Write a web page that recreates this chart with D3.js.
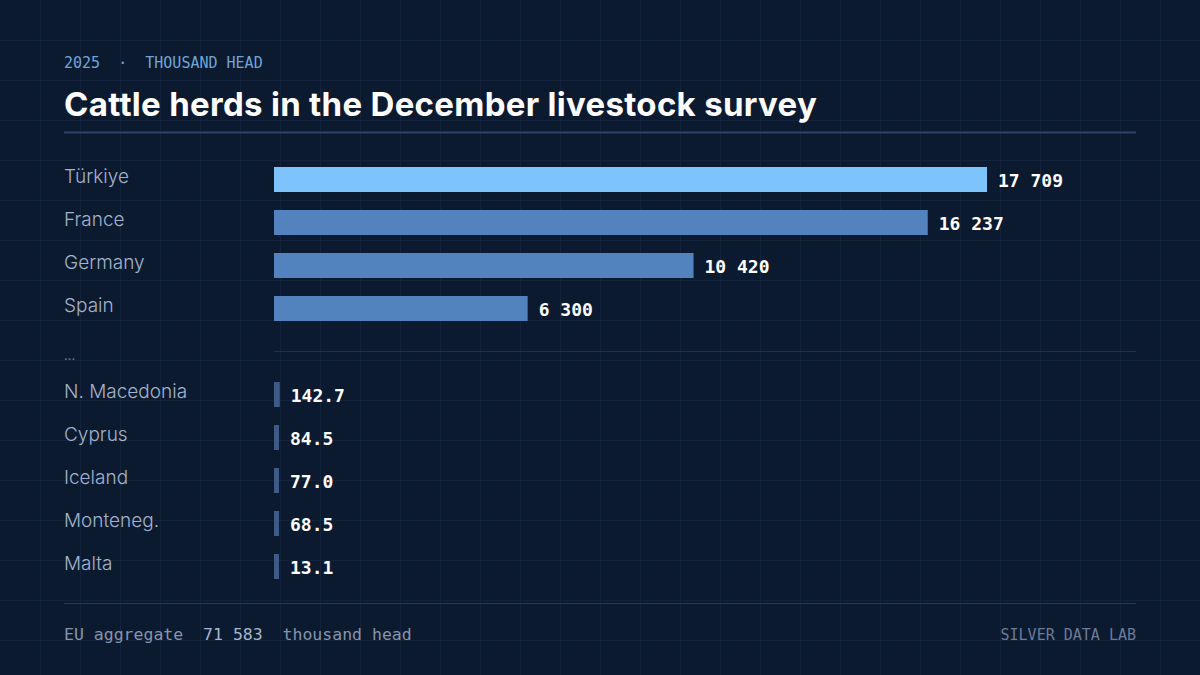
<!DOCTYPE html>
<html>
<head>
<meta charset="utf-8">
<script src="https://cdn.jsdelivr.net/npm/d3@7"></script>
<style>
  html, body { margin: 0; padding: 0; background: #0c1a30; }
  svg { display: block; }
</style>
</head>
<body>
<div id="chart"></div>
<script>
// values in thousand head, 2025
var topCountries = ['Türkiye', 'France', 'Germany', 'Spain'];
var topValues = [17709, 16237, 10420, 6300];
var topLabels = ['17 709', '16 237', '10 420', '6 300'];

var smallCountries = ['N. Macedonia', 'Cyprus', 'Iceland', 'Monteneg.', 'Malta'];
var smallValues = [142.7, 84.5, 77.0, 68.5, 13.1];
var smallLabels = ['142.7', '84.5', '77.0', '68.5', '13.1'];

var euTotal = '71 583';

var W = 1200, H = 675;
var MONO = '"DejaVu Sans Mono", "Liberation Mono", monospace';
var SANS = 'Inter, "Noto Sans", sans-serif';

var svg = d3.select('#chart').append('svg').attr('width', W).attr('height', H);

svg.append('rect').attr('width', W).attr('height', H).attr('fill', '#0c1a30');

// faint background grid
var grid = svg.append('g').attr('stroke', '#13233b').attr('stroke-width', 1);
d3.range(40, W, 40).forEach(function(x) {
    grid.append('line').attr('x1', x + 0.5).attr('x2', x + 0.5).attr('y1', 0).attr('y2', H);
});
d3.range(40, H, 40).forEach(function(y) {
    grid.append('line').attr('x1', 0).attr('x2', W).attr('y1', y + 0.5).attr('y2', y + 0.5);
});

// header
svg.append('text').attr('x', 64).attr('y', 68)
    .attr('font-family', MONO).attr('font-size', 15).attr('fill', '#6fa6d8')
    .attr('xml:space', 'preserve')
    .text('2025  ·  THOUSAND HEAD');

svg.append('text').attr('x', 64).attr('y', 116)
    .attr('font-family', SANS).attr('font-weight', 700).attr('font-size', 33)
    .attr('letter-spacing', 0.3).attr('fill', '#ffffff')
    .text('Cattle herds in the December livestock survey');

svg.append('line').attr('x1', 64).attr('x2', 1136).attr('y1', 132.5).attr('y2', 132.5)
    .attr('stroke', '#2c4468').attr('stroke-width', 2);

var x = d3.scaleLinear().domain([0, 17709]).range([274, 987]);

// 25px bars on a 43px pitch
var pad = 18 / 43;
var yTop = d3.scaleBand().domain(topCountries).range([167, 167 + 43 * 3 + 25]).paddingInner(pad).paddingOuter(0);
var ySmall = d3.scaleBand().domain(smallCountries).range([382, 382 + 43 * 4 + 25]).paddingInner(pad).paddingOuter(0);

function drawGroup(names, values, labels, y, isSmall) {
    var g = svg.append('g');
    var rows = g.selectAll('g').data(names).enter().append('g');

    rows.append('text')
        .attr('x', 64).attr('y', function(d) { return y(d) + 16; })
        .attr('font-family', SANS).attr('font-weight', 300).attr('font-size', 19)
        .attr('fill', '#a3b3cb')
        .text(function(d) { return d; });

    rows.append('rect')
        .attr('x', x(0))
        .attr('y', function(d) { return y(d); })
        .attr('height', y.bandwidth())
        .attr('width', function(d, i) { return Math.max(5, x(values[i]) - x(0)); })
        .attr('fill', function(d, i) {
            if (isSmall) return '#3d5b86';
            return i === 0 ? '#7cc4fb' : '#5383be';
        });

    rows.append('text')
        .attr('x', function(d, i) { return x(0) + Math.max(5, x(values[i]) - x(0)) + 11; })
        .attr('y', function(d) { return y(d) + y.bandwidth() / 2 + 7; })
        .attr('font-family', MONO).attr('font-weight', 700).attr('font-size', 18)
        .attr('fill', '#ffffff').attr('xml:space', 'preserve')
        .text(function(d, i) { return labels[i]; });
}

drawGroup(topCountries, topValues, topLabels, yTop, false);

// gap between largest and smallest herds
svg.append('text').attr('x', 64).attr('y', 360)
    .attr('font-family', SANS).attr('font-size', 13).attr('fill', '#6f7f99')
    .text('...');
svg.append('line').attr('x1', 274).attr('x2', 1136).attr('y1', 351.5).attr('y2', 351.5)
    .attr('stroke', '#1f3250').attr('stroke-width', 1);

drawGroup(smallCountries, smallValues, smallLabels, ySmall, true);

// footer
svg.append('line').attr('x1', 64).attr('x2', 1136).attr('y1', 603.5).attr('y2', 603.5)
    .attr('stroke', '#26395a').attr('stroke-width', 1);

var foot = svg.append('text').attr('x', 64).attr('y', 640)
    .attr('font-family', MONO).attr('font-size', 16.5).attr('fill', '#8595ad')
    .attr('xml:space', 'preserve');
foot.append('tspan').text('EU aggregate  ');
foot.append('tspan').attr('fill', '#a6b6cd').text(euTotal);
foot.append('tspan').text('  thousand head');

svg.append('text').attr('x', 1136).attr('y', 640).attr('text-anchor', 'end')
    .attr('font-family', MONO).attr('font-size', 15).attr('fill', '#6b7c97')
    .text('SILVER DATA LAB');
</script>
</body>
</html>
